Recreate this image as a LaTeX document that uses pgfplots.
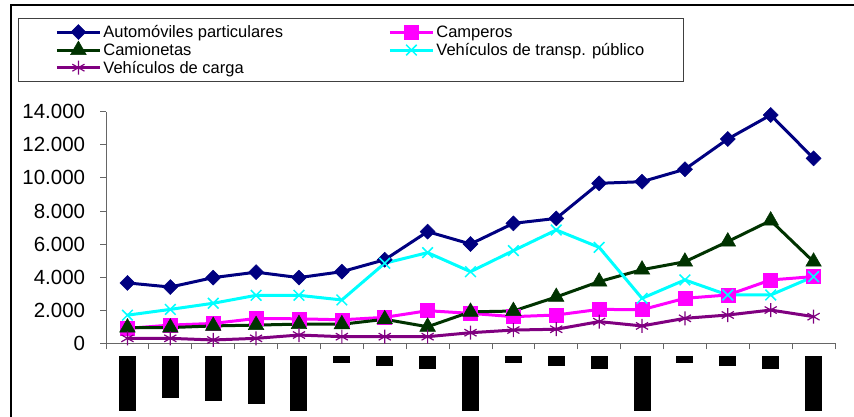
\documentclass[border=0pt]{standalone}
\usepackage{pgfplots}
\pgfplotsset{compat=1.18}
\usepackage{fontspec}
\setmainfont{Liberation Sans}

\definecolor{autoblue}{RGB}{0,0,128}
\definecolor{campmag}{RGB}{255,0,255}
\definecolor{camgreen}{RGB}{0,51,0}
\definecolor{transcyan}{RGB}{0,255,255}
\definecolor{cargapurple}{RGB}{128,0,128}

\begin{document}
\begin{tikzpicture}[x=1pt,y=1pt]
\useasboundingbox (0,0) rectangle (854,417);
\draw[line width=1.2pt] (11,-30) -- (11,412) -- (900,412);
\begin{axis}[
    at={(106pt,73.7pt)}, anchor=south west,
    scale only axis, width=729pt, height=231.6pt,
    xmin=0.5, xmax=17.5, ymin=0, ymax=14000,
    axis x line*=bottom, axis y line*=left,
    axis line style={-, draw=black!60, line width=0.8pt},
    tick style={draw=black!60, line width=0.8pt},
    tick align=outside, major tick length=6pt,
    xtick={0.5,1.5,...,17.5}, xticklabels={},
    extra x ticks={1,...,17},
    extra x tick style={major tick length=0pt,
        tick label style={anchor=north, inner sep=0pt, yshift=-12.7pt}},
    extra x tick labels={\rule{17pt}{54.7pt},\rule{17pt}{41.7pt},\rule{17pt}{44.7pt},\rule{17pt}{48pt},\rule{17pt}{54.7pt},\rule{17pt}{6.7pt},\rule{17pt}{10pt},\rule{17pt}{12.7pt},\rule{17pt}{54.7pt},\rule{17pt}{6.7pt},\rule{17pt}{10pt},\rule{17pt}{12.7pt},\rule{17pt}{54.7pt},\rule{17pt}{6.7pt},\rule{17pt}{10pt},\rule{17pt}{12.7pt},\rule{17pt}{54.7pt}},
    ytick={0,2000,...,14000},
    scaled y ticks=false,
    yticklabel={\pgfmathprintnumber[fixed, precision=0, 1000 sep={.}, assume math mode=true]{\tick}},
    yticklabel style={font=\fontsize{20.5}{22}\selectfont, inner sep=0pt, xshift=-14.7pt},
    clip=false,
    every axis plot/.append style={line width=3pt},
    legend columns=2,
    legend style={at={(-0.1207,1.4046)}, anchor=north west,
        draw=black!75, line width=0.8pt, inner xsep=37pt, inner ysep=5pt,
        font=\fontsize{16.5}{18}\selectfont, row sep=0pt,
        nodes={anchor=base west},
        row 3/.style={nodes={text depth=10pt}}},
    legend image code/.code={\draw[mark repeat=2,mark phase=2,#1] plot coordinates {(0pt,5.5pt) (21.5pt,5.5pt) (43pt,5.5pt)};},
]
\addplot[color=autoblue, mark=square*, mark options={rotate=45, solid, line width=0.5pt}, mark size=5.3pt]
coordinates {(1,3650) (2,3400) (3,3970) (4,4300) (5,3970) (6,4330) (7,5050) (8,6750) (9,6000) (10,7250) (11,7550) (12,9670) (13,9770) (14,10520) (15,12350) (16,13800) (17,11180)};
\addlegendentry{\makebox[283pt][l]{Automóviles particulares}}
\addplot[color=campmag, mark=square*, mark options={solid, line width=0.5pt}, mark size=7pt]
coordinates {(1,900) (2,1100) (3,1200) (4,1500) (5,1480) (6,1420) (7,1570) (8,1970) (9,1810) (10,1610) (11,1710) (12,2050) (13,2030) (14,2720) (15,2920) (16,3830) (17,4030)};
\addlegendentry{\makebox[201pt][l]{Camperos}}
\addplot[color=camgreen, mark=triangle*, mark options={solid, line width=0.5pt}, mark size=9pt]
coordinates {(1,950) (2,950) (3,1050) (4,1100) (5,1160) (6,1150) (7,1450) (8,1000) (9,1900) (10,1950) (11,2800) (12,3730) (13,4450) (14,4930) (15,6150) (16,7420) (17,4930)};
\addlegendentry{Camionetas}
\addplot[color=transcyan, mark=x, mark options={solid, line width=1.5pt}, mark size=7.5pt]
coordinates {(1,1700) (2,2050) (3,2420) (4,2900) (5,2900) (6,2620) (7,4840) (8,5480) (9,4330) (10,5600) (11,6850) (12,5800) (13,2720) (14,3830) (15,2920) (16,2920) (17,4030)};
\addlegendentry{Vehículos de transp. público}
\addplot[color=cargapurple, mark=asterisk, mark options={solid, line width=1.2pt}, mark size=7pt]
coordinates {(1,300) (2,300) (3,200) (4,300) (5,500) (6,400) (7,400) (8,400) (9,640) (10,800) (11,850) (12,1310) (13,1050) (14,1510) (15,1710) (16,2010) (17,1610)};
\addlegendentry{Vehículos de carga}
\end{axis}
\end{tikzpicture}
\end{document}
